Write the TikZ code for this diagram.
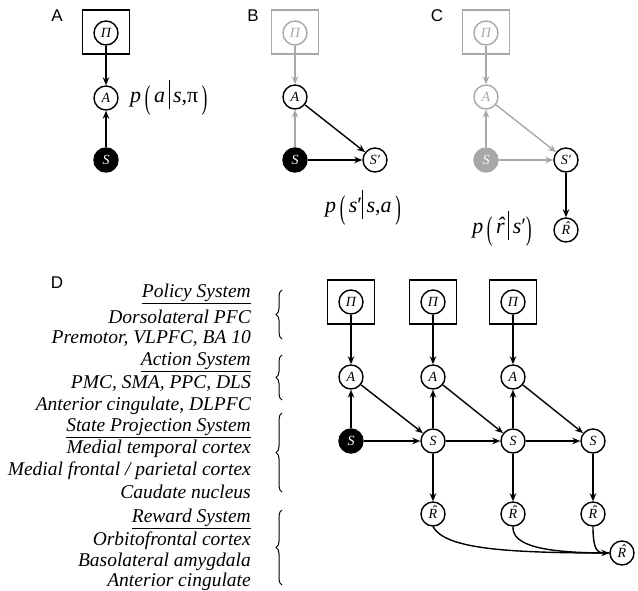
\documentclass[tikz,border=0pt]{standalone}
\usepackage{graphicx}
\usepackage{fontspec}
\setmainfont{Liberation Serif}
\newfontfamily\labelfont{Liberation Sans}
\usetikzlibrary{arrows.meta,decorations.pathreplacing}
\definecolor{lg}{gray}{0.66}
\newcommand\tp[1]{\raisebox{-0.3em}{\scalebox{0.75}[1.5]{#1}}}
\newcommand\vb{\rule[-0.3em]{0.7pt}{1.3em}}
\newcommand\hatof[3]{\ooalign{\textit{#1}\cr\hidewidth\kern#2\raisebox{#3}{\textit{ˆ}}\hidewidth\cr}}
\newcommand\Rhat{\hatof{R}{0.18em}{0.2em}}
\tikzset{
 nd/.style={circle,draw,line width=1.4pt,minimum size=24pt,inner sep=0pt,font=\fontsize{14}{14}\selectfont\itshape,fill=white},
 sn/.style={nd,fill=black,text=white},
 gn/.style={nd,draw=lg,text=lg},
 gsn/.style={nd,draw=lg,fill=lg,text=white},
 pbox/.style={draw,line width=1.1pt,minimum width=47pt,minimum height=44pt,inner sep=0pt},
 arr/.style={line width=1.4pt,-{Stealth[length=8pt,width=6.5pt]}},
 garr/.style={arr,draw=lg},
 panel/.style={font=\labelfont\fontsize{17}{17}\selectfont},
 lbl/.style={anchor=east,inner sep=0pt,font=\fontsize{19.5}{19.5}\selectfont\itshape},
 frm/.style={font=\fontsize{22}{22}\selectfont,inner sep=0pt},
 br/.style={decorate,decoration={brace,amplitude=6pt},line width=1pt},
}
\begin{document}
\begin{tikzpicture}[x=1pt,y=-1pt]
\useasboundingbox (0,0) rectangle (638,590);
% panel labels
\node[panel] (la) at (57,16) {A};
\node[panel] (lb) at (253,16) {B};
\node[panel] (lc) at (437,16) {C};
\node[panel] (ld) at (57,283) {D};
% ---- Panel A
\node[pbox] (aBox) at (106,32) {};
\node[nd] (aPi) at (106,33) {Π};
\node[nd] (aA) at (106,98) {A};
\node[sn] (aS) at (106,160) {S};
\draw[arr] (aPi) -- (aA);
\draw[arr] (aS) -- (aA);
\node[frm,anchor=west] (fa) at (130,98) {\textit{p}\,\tp{(}\,\textit{a}\,\vb\,\textit{s},π\,\tp{)}};
% ---- Panel B
\node[pbox,draw=lg] (bBox) at (295,32) {};
\node[gn] (bPi) at (295,33) {Π};
\node[nd] (bA) at (295,97) {A};
\node[sn] (bS) at (295,160) {S};
\node[nd] (bS2) at (375,160) {S′};
\draw[garr] (bPi) -- (bA);
\draw[garr] (bS) -- (bA);
\draw[arr] (bA) -- (bS2);
\draw[arr] (bS) -- (bS2);
\node[frm] (fb) at (363,208) {\textit{p}\,\tp{(}\,\textit{s}′\vb\,\textit{s},\textit{a}\,\tp{)}};
% ---- Panel C
\node[pbox,draw=lg] (cBox) at (486,32) {};
\node[gn] (cPi) at (486,33) {Π};
\node[gn] (cA) at (486,97) {A};
\node[gsn] (cS) at (486,160) {S};
\node[nd] (cS2) at (566,160) {S′};
\node[nd] (cR) at (566,230) {\Rhat};
\draw[garr] (cPi) -- (cA);
\draw[garr] (cS) -- (cA);
\draw[garr] (cA) -- (cS2);
\draw[garr] (cS) -- (cS2);
\draw[arr] (cS2) -- (cR);
\node[frm] (fc) at (502,229) {\textit{p}\,\tp{(}\,\hatof{r}{0.08em}{0.02em}\,\vb\,\textit{s}′\tp{)}};
% ---- Panel D text
\node[lbl] (t1) at (251,294) {\underline{Policy System}};
\node[lbl] (t2) at (251,317) {Dorsolateral PFC};
\node[lbl] (t3) at (251,339) {Premotor, VLPFC, BA 10};
\node[lbl] (t4) at (251,362) {\underline{Action System}};
\node[lbl] (t5) at (251,384) {PMC, SMA, PPC, DLS};
\node[lbl] (t6) at (251,406) {Anterior cingulate, DLPFC};
\node[lbl] (t7) at (251,428) {\underline{State Projection System}};
\node[lbl] (t8) at (251,449) {Medial temporal cortex};
\node[lbl] (t9) at (251,471) {Medial frontal / parietal cortex};
\node[lbl] (t10) at (251,492) {Caudate nucleus};
\node[lbl] (t11) at (251,519) {\underline{Reward System}};
\node[lbl] (t12) at (251,541) {Orbitofrontal cortex};
\node[lbl] (t13) at (251,562) {Basolateral amygdala};
\node[lbl] (t14) at (251,582) {Anterior cingulate};
% braces
\coordinate (b1a) at (282,339); \coordinate (b1b) at (282,290);
\coordinate (b2a) at (282,400); \coordinate (b2b) at (282,355);
\coordinate (b3a) at (282,492); \coordinate (b3b) at (282,413);
\coordinate (b4a) at (282,585); \coordinate (b4b) at (282,510);
\draw[br] (b1a) -- (b1b);
\draw[br] (b2a) -- (b2b);
\draw[br] (b3a) -- (b3b);
\draw[br] (b4a) -- (b4b);
% ---- Panel D graph
\foreach \i/\x in {1/351,2/433,3/513}{
  \node[pbox] (dBox\i) at (\x,302) {};
  \node[nd] (dPi\i) at (\x,302) {Π};
  \node[nd] (dA\i) at (\x,377) {A};
  \draw[arr] (dPi\i) -- (dA\i);
}
\node[sn] (dS1) at (351,441) {S};
\node[nd] (dS2) at (433,441) {S};
\node[nd] (dS3) at (513,441) {S};
\node[nd] (dS4) at (593,441) {S};
\node[nd] (dR2) at (433,514) {\Rhat};
\node[nd] (dR3) at (513,514) {\Rhat};
\node[nd] (dR4) at (593,514) {\Rhat};
\node[nd] (dRt) at (622,553) {\Rhat};
\draw[arr] (dS1) -- (dA1);
\draw[arr] (dS2) -- (dA2);
\draw[arr] (dS3) -- (dA3);
\draw[arr] (dA1) -- (dS2);
\draw[arr] (dA2) -- (dS3);
\draw[arr] (dA3) -- (dS4);
\draw[arr] (dS1) -- (dS2);
\draw[arr] (dS2) -- (dS3);
\draw[arr] (dS3) -- (dS4);
\draw[arr] (dS2) -- (dR2);
\draw[arr] (dS3) -- (dR3);
\draw[arr] (dS4) -- (dR4);
\draw[line width=1.4pt] (dR2.south) .. controls (445,548) and (500,553) .. (dRt.west);
\draw[line width=1.4pt] (dR3.south) .. controls (512,546) and (545,553) .. (dRt.west);
\draw[arr] (dR4.south) .. controls (593,549) and (597,553) .. (dRt.west);
\end{tikzpicture}
\end{document}
